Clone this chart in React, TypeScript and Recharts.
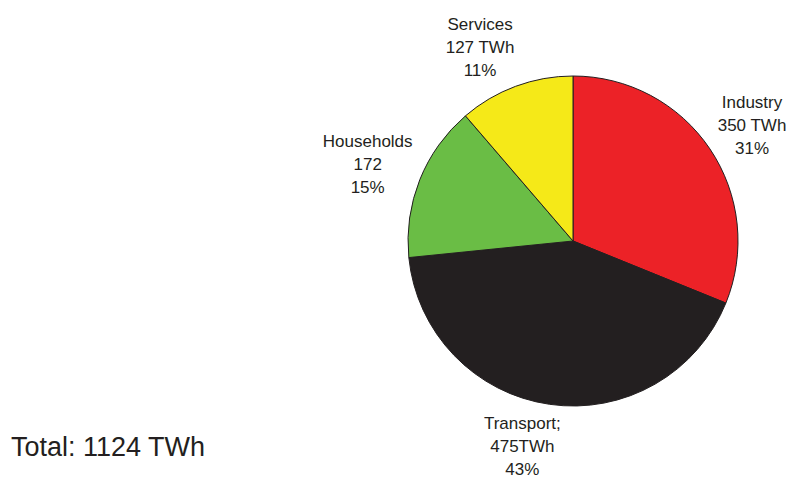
import { PieChart, Pie, Cell } from 'recharts'

const names = ['Industry', 'Transport;', 'Households', 'Services']
const values = [350, 475, 172, 127]
const valueLabels = ['350 TWh', '475TWh', '172', '127 TWh']
const percentLabels = ['31%', '43%', '15%', '11%']
const totalLabel = 'Total: 1124 TWh'

const COLORS = ['#ec2227', '#231f20', '#6abd45', '#f5e918']
const TEXT = '#231f20'

const data = names.map((name, i) => ({ name, value: values[i] }))

const RADIAN = Math.PI / 180

// labels sit on an ellipse around the pie, three lines each;
// the ones near top/bottom lean a bit to the left like the original
function renderLabel(props: any) {
  const { cx, cy, midAngle, outerRadius, index } = props
  const sin = Math.sin(-midAngle * RADIAN)
  const cos = Math.cos(-midAngle * RADIAN)
  const x = cx + (outerRadius + 55) * cos - 20 * Math.abs(sin) ** 3
  const y = cy + (outerRadius + 42) * sin
  const lines = [names[index], valueLabels[index], percentLabels[index]]
  return (
    <text
      x={x}
      y={y - 23}
      textAnchor="middle"
      dominantBaseline="central"
      fill={TEXT}
      fontSize={17}
      fontFamily="'Liberation Sans', Arial, sans-serif"
    >
      {lines.map((l, i) => (
        <tspan key={i} x={x} dy={i === 0 ? 0 : 23}>
          {l}
        </tspan>
      ))}
    </text>
  )
}

export default function App() {
  return (
    <div style={{ position: 'absolute', left: 0, top: 0, width: 795, height: 479, background: '#fff' }}>
      <PieChart width={795} height={479}>
        <Pie
          data={data}
          dataKey="value"
          cx={568}
          cy={236}
          outerRadius={165}
          startAngle={90}
          endAngle={-270}
          stroke="#231f20"
          strokeWidth={1}
          label={renderLabel}
          labelLine={false}
          isAnimationActive={false}
        >
          {data.map((_, i) => (
            <Cell key={i} fill={COLORS[i]} />
          ))}
        </Pie>
      </PieChart>
      <div
        style={{
          position: 'absolute',
          left: 11,
          top: 432,
          fontSize: 27,
          color: TEXT,
          fontFamily: "'Liberation Sans', Arial, sans-serif",
          lineHeight: '30px',
        }}
      >
        {totalLabel}
      </div>
    </div>
  )
}
